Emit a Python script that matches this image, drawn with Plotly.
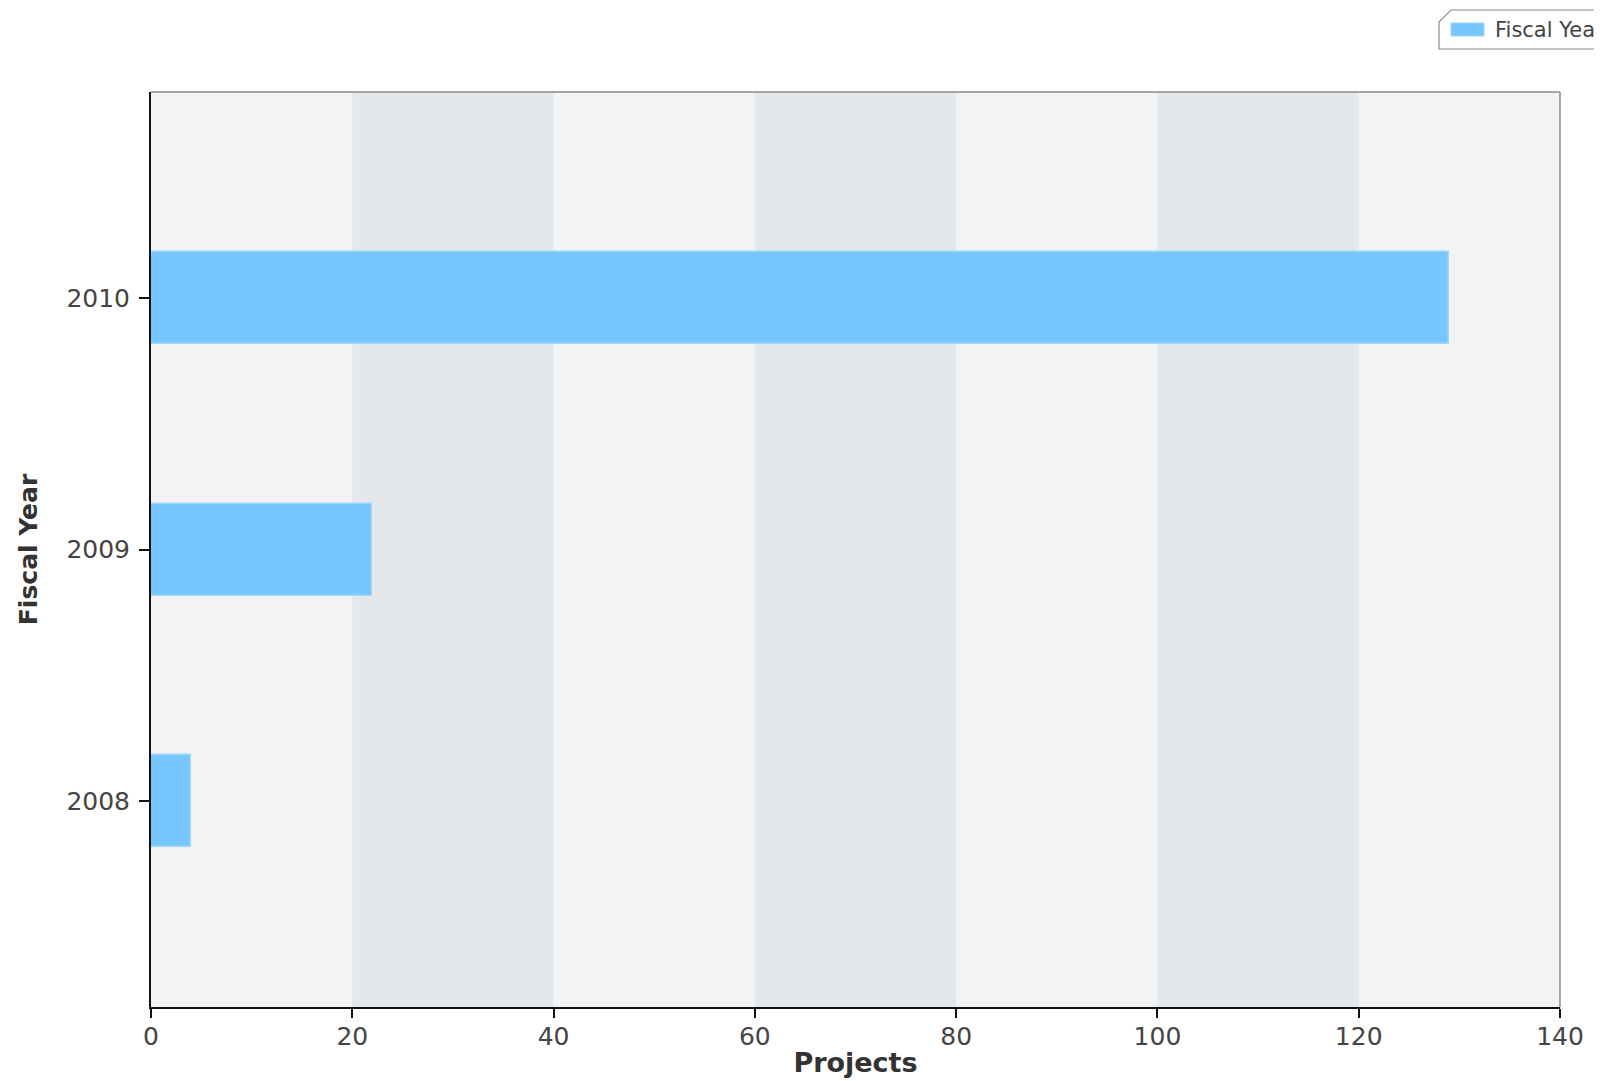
import plotly.graph_objects as go

years = ["2008", "2009", "2010"]
projects = [4, 22, 129]
band_starts = [20, 60, 100]
band_width = 20
x_ticks = [0, 20, 40, 60, 80, 100, 120, 140]
series_name = "Fiscal Year"

W, H = 1602, 1081
OFF = 8  # page body margin offset
ML, MR, MT, MB = 151 - OFF, 42 + OFF, 92 - OFF, 74 + OFF
PW, PH = W - ML - MR, H - MT - MB


def px_x(p):
    return (p - OFF - ML) / PW


def px_y(p):
    return (H - MB - (p - OFF)) / PH


fig = go.Figure()
fig.add_trace(go.Bar(
    y=years, x=projects, orientation="h", name=series_name,
    width=0.366,
    marker=dict(color="#76c6fd", line=dict(color="#9fd6fc", width=1.5)),
    showlegend=False,
))

shapes = []
for s in band_starts:
    shapes.append(dict(type="rect", xref="x", yref="paper", x0=s, x1=s + band_width,
                       y0=0, y1=1, fillcolor="#e5e8eb", line=dict(width=0), layer="below"))
# top/right frame
shapes.append(dict(type="line", xref="paper", yref="paper", x0=0, x1=1, y0=1, y1=1,
                   line=dict(color="#8a8a8a", width=1.5)))
shapes.append(dict(type="line", xref="paper", yref="paper", x0=1, x1=1, y0=0, y1=1,
                   line=dict(color="#8a8a8a", width=1.5)))

# legend box (cut top-left corner), extending past right edge (viewport px)
lx0, lx1, lyt, lyb, cut = 1439, 1640, 10, 49, 12
path = (f"M {px_x(lx0)},{px_y(lyt + cut)} L {px_x(lx0 + cut)},{px_y(lyt)} "
        f"L {px_x(lx1)},{px_y(lyt)} L {px_x(lx1)},{px_y(lyb)} L {px_x(lx0)},{px_y(lyb)} Z")
shapes.append(dict(type="path", xref="paper", yref="paper", path=path,
                   fillcolor="white", line=dict(color="#8c8c8c", width=1.2)))
shapes.append(dict(type="rect", xref="paper", yref="paper",
                   x0=px_x(1451), x1=px_x(1484), y0=px_y(36), y1=px_y(23),
                   fillcolor="#76c6fd", line=dict(color="#9fd6fc", width=1)))

annotations = [dict(text=series_name, xref="paper", yref="paper", x=px_x(1493), y=px_y(30),
                    xanchor="left", yanchor="middle", showarrow=False,
                    font=dict(size=21, color="#444"))]

fig.update_layout(
    width=W, height=H,
    margin=dict(l=ML, r=MR, t=MT, b=MB),
    paper_bgcolor="white", plot_bgcolor="#f2f3f5",
    font=dict(family="DejaVu Sans, Liberation Sans, sans-serif", size=25, color="#444"),
    shapes=shapes,
    annotations=annotations,
    bargap=0,
    showlegend=False,
    xaxis=dict(range=[0, 140], tickvals=x_ticks, showgrid=False, zeroline=False,
               automargin=False,
               showline=True, linecolor="#111", linewidth=2, ticks="outside",
               ticklen=9, tickcolor="#111", tickwidth=1.5, ticklabelstandoff=-3,
               tickfont=dict(size=25, color="#444"),
               title=dict(text="<b>Projects</b>", font=dict(size=27, color="#333"), standoff=3)),
    yaxis=dict(range=[-0.82, 2.82], showgrid=False, zeroline=False,
               automargin=False,
               showline=True, linecolor="#111", linewidth=2, ticks="outside",
               ticklen=10, tickcolor="#111", tickwidth=1.5, ticklabelstandoff=4,
               tickfont=dict(size=25, color="#444"),
               title=dict(text="<b>Fiscal Year</b>", font=dict(size=25, color="#333"), standoff=22)),
)

fig.write_html("out.html")
